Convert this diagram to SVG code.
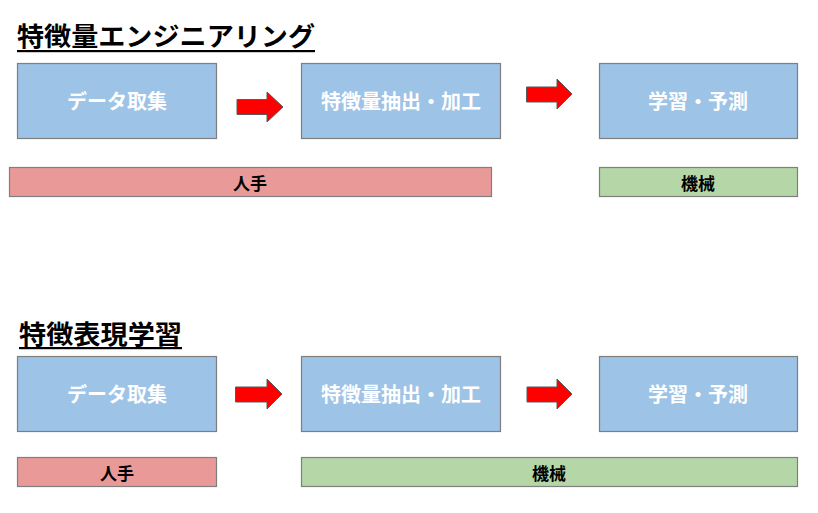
<svg xmlns="http://www.w3.org/2000/svg" width="818" height="513" viewBox="0 0 818 513">
<style>
.title{font-family:"Noto Sans CJK JP","Noto Sans",sans-serif;font-weight:bold;font-size:26px;fill:#000}
.box{fill:#9dc3e6;stroke:#7f7f7f;stroke-width:1.2}
.btxt{font-family:"Noto Sans CJK JP","Noto Sans",sans-serif;font-weight:bold;font-size:20px;fill:#fff;text-anchor:middle;dominant-baseline:central}
.man{fill:#ea9999;stroke:#7f7f7f;stroke-width:1.2}
.mach{fill:#b5d6a7;stroke:#7f7f7f;stroke-width:1.2}
.ltxt{font-family:"Noto Sans CJK JP","Noto Sans",sans-serif;font-weight:bold;font-size:17px;fill:#000;text-anchor:middle;dominant-baseline:central}
.arrow{fill:#ff0000;stroke:#595959;stroke-width:1}
</style>
<g id="title1">
<text class="title" x="17" y="46" textLength="298" lengthAdjust="spacingAndGlyphs">特徴量エンジニアリング</text>
<rect x="17" y="50" width="298" height="2.2" fill="#000"/>
</g>
<g id="title2">
<text class="title" x="19" y="344" textLength="163" lengthAdjust="spacingAndGlyphs">特徴表現学習</text>
<rect x="19" y="347" width="163" height="2.2" fill="#000"/>
</g>
<g id="r1-collect"><rect class="box" x="17.5" y="63.5" width="199" height="75"/><text class="btxt" x="117" y="100">データ取集</text></g>
<g id="r1-feature"><rect class="box" x="301.5" y="63.5" width="199" height="75"/><text class="btxt" x="401" y="100">特徴量抽出・加工</text></g>
<g id="r1-learn"><rect class="box" x="599.5" y="63.5" width="198" height="75"/><text class="btxt" x="698" y="100">学習・予測</text></g>
<g id="r1-human"><rect class="man" x="9.5" y="167.5" width="482" height="29"/><text class="ltxt" x="250" y="182">人手</text></g>
<g id="r1-machine"><rect class="mach" x="599.5" y="167.5" width="198" height="29"/><text class="ltxt" x="698" y="182">機械</text></g>
<g id="r2-collect"><rect class="box" x="17.5" y="356.5" width="199" height="75"/><text class="btxt" x="117" y="393">データ取集</text></g>
<g id="r2-feature"><rect class="box" x="301.5" y="356.5" width="199" height="75"/><text class="btxt" x="401" y="393">特徴量抽出・加工</text></g>
<g id="r2-learn"><rect class="box" x="599.5" y="356.5" width="198" height="75"/><text class="btxt" x="698" y="393">学習・予測</text></g>
<g id="r2-human"><rect class="man" x="17.5" y="457.5" width="199" height="29"/><text class="ltxt" x="117" y="472">人手</text></g>
<g id="r2-machine"><rect class="mach" x="301.5" y="457.5" width="496" height="29"/><text class="ltxt" x="549" y="472">機械</text></g>
<g id="connectors">
<polygon class="arrow" points="237,99.5 267,99.5 267,92 283,107 267,122 267,114.5 237,114.5"/>
<polygon class="arrow" points="526.5,87 557,87 557,79 572,94 557,109 557,102 526.5,102"/>
<polygon class="arrow" points="235.5,387 267,387 267,379 282,394 267,409 267,402 235.5,402"/>
<polygon class="arrow" points="527,387 557,387 557,379 572,394 557,409 557,402 527,402"/>
</g>
</svg>
